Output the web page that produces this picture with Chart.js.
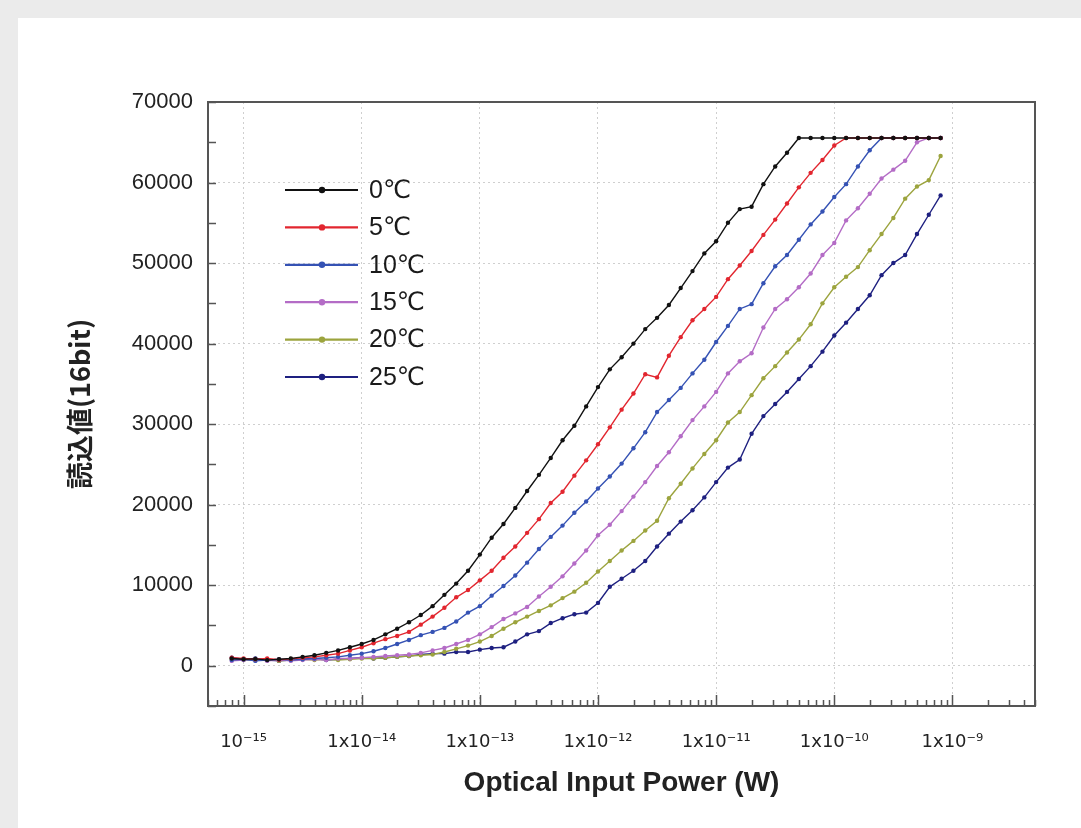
<!DOCTYPE html>
<html>
<head>
<meta charset="utf-8">
<script src="https://cdn.jsdelivr.net/npm/chart.js@4.4.1/dist/chart.umd.min.js"></script>
<style>
  html, body { margin: 0; padding: 0; background: #fff; }
  #wrap { position: relative; width: 1081px; height: 828px; }
  canvas { display: block; }
</style>
</head>
<body>
<div id="wrap"><canvas id="myChart" width="1081" height="828" style="width:1081px;height:828px"></canvas></div>
<script>
// optical input power, as powers of ten (W)
const powerExp = [
  -15.1, -15.0, -14.9, -14.8, -14.7, -14.6, -14.5, -14.4, -14.3, -14.2,
  -14.1, -14.0, -13.9, -13.8, -13.7, -13.6, -13.5, -13.4, -13.3, -13.2,
  -13.1, -13.0, -12.9, -12.8, -12.7, -12.6, -12.5, -12.4, -12.3, -12.2,
  -12.1, -12.0, -11.9, -11.8, -11.7, -11.6, -11.5, -11.4, -11.3, -11.2,
  -11.1, -11.0, -10.9, -10.8, -10.7, -10.6, -10.5, -10.4, -10.3, -10.2,
  -10.1, -10.0, -9.9, -9.8, -9.7, -9.6, -9.5, -9.4, -9.3, -9.2,
  -9.1
];

// readings (16bit) per temperature
const read0C = [
  900, 800, 850, 700, 800, 900, 1100, 1300, 1600, 1900,
  2300, 2700, 3200, 3900, 4600, 5400, 6300, 7400, 8800, 10200,
  11800, 13800, 15900, 17600, 19600, 21700, 23700, 25800, 28000, 29800,
  32200, 34600, 36800, 38300, 40000, 41800, 43200, 44800, 46900, 49000,
  51200, 52700, 55000, 56700, 57000, 59800, 62000, 63700, 65535, 65535,
  65535, 65535, 65535, 65535, 65535, 65535, 65535, 65535, 65535, 65535,
  65535
];
const read5C = [
  1000, 900, 800, 900, 750, 850, 1000, 1100, 1300, 1500,
  1900, 2300, 2800, 3300, 3700, 4200, 5100, 6100, 7200, 8500,
  9400, 10600, 11800, 13400, 14800, 16500, 18200, 20200, 21600, 23600,
  25500, 27500, 29600, 31800, 33800, 36200, 35800, 38500, 40800, 42900,
  44300, 45800, 48000, 49700, 51500, 53500, 55400, 57400, 59400, 61200,
  62800, 64600, 65535, 65535, 65535, 65535, 65535, 65535, 65535, 65535,
  65535
];
const read10C = [
  700, 800, 600, 700, 800, 700, 800, 900, 1000, 1100,
  1300, 1500, 1800, 2200, 2700, 3200, 3800, 4200, 4700, 5500,
  6600, 7400, 8700, 9900, 11200, 12800, 14500, 16000, 17400, 19000,
  20400, 22000, 23500, 25100, 27000, 29000, 31500, 33000, 34500, 36300,
  38000, 40200, 42200, 44300, 44900, 47500, 49600, 51000, 52900, 54800,
  56400, 58200, 59800, 62000, 64000, 65535, 65535, 65535, 65535, 65535,
  65535
];
const read15C = [
  600, 700, 800, 600, 700, 600, 700, 800, 700, 900,
  900, 1000, 1100, 1200, 1300, 1400, 1600, 1900, 2200, 2700,
  3200, 3900, 4800, 5800, 6500, 7300, 8600, 9800, 11100, 12700,
  14300, 16200, 17500, 19200, 21000, 22800, 24800, 26500, 28500, 30500,
  32200, 34000, 36300, 37800, 38800, 42000, 44300, 45500, 47000, 48700,
  51000, 52500, 55300, 56800, 58600, 60500, 61600, 62700, 65000, 65535,
  65535
];
const read20C = [
  800, 700, 700, 800, 600, 700, 800, 700, 800, 700,
  800, 900, 900, 1000, 1100, 1200, 1300, 1400, 1700, 2100,
  2500, 3000, 3700, 4600, 5400, 6100, 6800, 7500, 8400, 9200,
  10300, 11700, 13000, 14300, 15500, 16800, 18000, 20800, 22600, 24500,
  26300, 28000, 30200, 31500, 33600, 35700, 37200, 38900, 40500, 42400,
  45000, 47000, 48300, 49500, 51600, 53600, 55600, 58000, 59500, 60300,
  63300
];
const read25C = [
  1000, 800, 900, 700, 600, 700, 800, 900, 700, 800,
  900, 1000, 900, 1000, 1100, 1200, 1400, 1500, 1500, 1700,
  1700, 2000, 2200, 2300, 3000, 3900, 4300, 5300, 5900, 6400,
  6600, 7800, 9800, 10800, 11800, 13000, 14800, 16400, 17900, 19300,
  20900, 22800, 24600, 25600, 28800, 31000, 32500, 34000, 35600, 37200,
  39000, 41000, 42600, 44300, 46000, 48500, 50000, 51000, 53600, 56000,
  58400
];

const seriesLabels = ["0℃", "5℃", "10℃", "15℃", "20℃", "25℃"];
const seriesColors = ["#111111", "#e2262f", "#3552b4", "#b46cc6", "#9ca43e", "#1e2080"];
const seriesValues = [read0C, read5C, read10C, read15C, read20C, read25C];

// axis ticks
const xTickExp = [-15, -14, -13, -12, -11, -10, -9];
const yTicks = [0, 10000, 20000, 30000, 40000, 50000, 60000, 70000];

const sup = { "-": "⁻", "0": "⁰", "1": "¹", "2": "²", "3": "³", "4": "⁴", "5": "⁵", "6": "⁶", "7": "⁷", "8": "⁸", "9": "⁹" };
function expLabel(e) {
  const s = String(e).split("").map((c) => sup[c]).join("");
  return e === -15 ? "10" + s : "1x10" + s;
}

const datasets = seriesValues.map((vals, i) => ({
  label: seriesLabels[i],
  data: vals.map((v, k) => ({ x: Math.pow(10, powerExp[k]), y: v })),
  borderColor: seriesColors[i],
  backgroundColor: seriesColors[i],
  borderWidth: 1.4,
  pointRadius: 2.2,
  pointBorderWidth: 0,
  pointHoverRadius: 0,
  tension: 0,
  fill: false,
}));

const baseFont = "'Liberation Sans', 'DejaVu Sans', sans-serif";

//draws page background, inner ticks and the plot frame
const framePlugin = {
  id: "frame",
  beforeDraw(chart) {
    const ctx = chart.ctx;
    ctx.save();
    ctx.fillStyle = "#ffffff";
    ctx.fillRect(0, 0, chart.width, chart.height);
    ctx.fillStyle = "#ebebeb";
    ctx.fillRect(0, 0, chart.width, 18);
    ctx.fillRect(0, 0, 18, chart.height);
    ctx.restore();
  },
  afterDraw(chart) {
    const { ctx, chartArea: a, scales } = chart;
    const x = scales.x, y = scales.y;
    ctx.save();
    ctx.strokeStyle = "#555";
    ctx.lineWidth = 1.5;
    ctx.beginPath();
    for (let n = -16; n <= -9; n++) {
      for (let m = 1; m <= 9; m++) {
        const v = m * Math.pow(10, n);
        if (v < x.min || v > x.max) continue;
        const px = Math.round(x.getPixelForValue(v)) + 0.5;
        ctx.moveTo(px, a.bottom);
        ctx.lineTo(px, a.bottom - (m === 1 ? 11 : 6));
      }
    }
    for (let v = -5000; v <= 70000; v += 5000) {
      const py = Math.round(y.getPixelForValue(v)) + 0.5;
      ctx.moveTo(a.left, py);
      ctx.lineTo(a.left + 8, py);
    }
    ctx.stroke();
    ctx.lineWidth = 2;
    ctx.strokeRect(a.left, a.top, a.right - a.left, a.bottom - a.top);
    ctx.restore();
  },
};

//legend drawn inside the plot, line with a dot
const legendPlugin = {
  id: "innerLegend",
  afterDatasetsDraw(chart) {
    const ctx = chart.ctx;
    const a = chart.chartArea;
    const x0 = a.left + 77, y0 = a.top + 88;
    ctx.save();
    ctx.font = "25px " + baseFont;
    ctx.textBaseline = "middle";
    chart.data.datasets.forEach((ds, i) => {
      const yy = y0 + i * 37.4;
      ctx.strokeStyle = ds.borderColor;
      ctx.lineWidth = 2.2;
      ctx.beginPath();
      ctx.moveTo(x0, yy);
      ctx.lineTo(x0 + 73, yy);
      ctx.stroke();
      ctx.fillStyle = ds.borderColor;
      ctx.beginPath();
      ctx.arc(x0 + 37, yy, 3.2, 0, Math.PI * 2);
      ctx.fill();
      ctx.fillStyle = "#1a1a1a";
      ctx.fillText(ds.label, x0 + 84, yy + 1);
    });
    ctx.restore();
  },
};

const ctx = document.getElementById("myChart").getContext("2d");

const chart = new Chart(ctx, {
  type: "line",
  data: { datasets: datasets },
  plugins: [framePlugin, legendPlugin],
  options: {
    responsive: false,
    animation: false,
    devicePixelRatio: 1,
    layout: { padding: { left: 64, top: 102, right: 46, bottom: 22 } },
    plugins: {
      legend: { display: false },
      tooltip: { enabled: false },
    },
    scales: {
      x: {
        type: "logarithmic",
        min: 5e-16,
        max: 5e-9,
        afterBuildTicks: (scale) => {
          scale.ticks = xTickExp.map((e) => ({ value: Math.pow(10, e), major: true }));
        },
        afterFit: (scale) => { scale.height = 100; },
        grid: { color: "#cfcfcf", lineWidth: 1, drawTicks: false },
        border: { display: false, dash: [2, 3] },
        ticks: {
          padding: 26,
          color: "#222",
          font: { family: "'DejaVu Sans', sans-serif", size: 18 },
          maxRotation: 0,
          autoSkip: false,
          callback: (value) => expLabel(Math.round(Math.log10(value))),
        },
        title: {
          display: true,
          text: "Optical Input Power (W)",
          color: "#222",
          font: { family: baseFont, size: 28, weight: "bold" },
          padding: { top: 0, bottom: 6 },
        },
      },
      y: {
        min: -5000,
        max: 70000,
        afterBuildTicks: (scale) => {
          scale.ticks = yTicks.map((v) => ({ value: v }));
        },
        afterFit: (scale) => { scale.width = 144; },
        grid: { color: "#cfcfcf", lineWidth: 1, drawTicks: false },
        border: { display: false, dash: [2, 3] },
        ticks: {
          padding: 15,
          color: "#222",
          font: { family: baseFont, size: 22 },
          callback: (value) => String(value),
        },
        title: {
          display: true,
          text: "読込値(16bit)",
          color: "#222",
          font: { family: "'Noto Sans CJK JP', " + baseFont, size: 27, weight: "bold" },
          padding: { top: 0, bottom: 0 },
        },
      },
    },
  },
});
</script>
</body>
</html>
